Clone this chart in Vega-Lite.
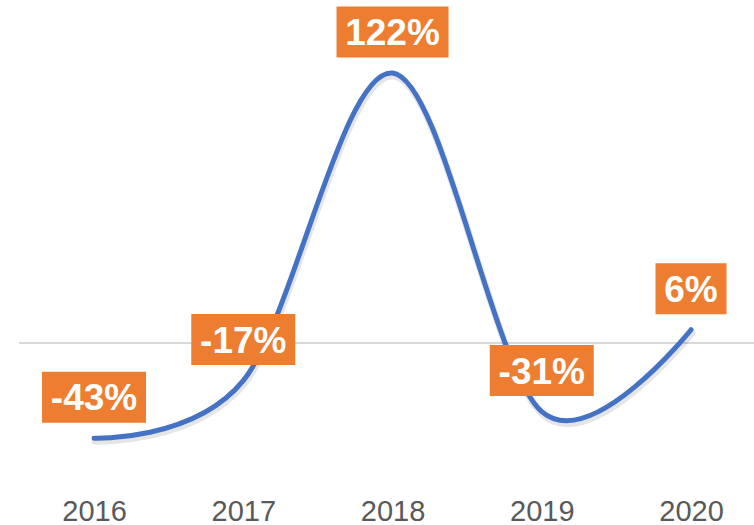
{
  "$schema": "https://vega.github.io/schema/vega-lite/v6.json",
  "width": 754,
  "height": 495,
  "autosize": {"type": "none"},
  "padding": {"left": 0, "top": 0, "right": 0, "bottom": 30},
  "background": "white",
  "config": {"view": {"stroke": null}},
  "data": {
    "values": [
      {"year": 2016, "value": -43, "label": "-43%"},
      {"year": 2017, "value": -17, "label": "-17%"},
      {"year": 2018, "value": 122, "label": "122%"},
      {"year": 2019, "value": -31, "label": "-31%"},
      {"year": 2020, "value": 6, "label": "6%"}
    ]
  },
  "layer": [
    {
      "mark": {"type": "rule", "color": "#D9D9D9", "strokeWidth": 2},
      "encoding": {
        "y": {"datum": 0, "type": "quantitative", "scale": {"domain": [-68.7, 155.0], "nice": false, "zero": false}, "axis": null},
        "x": {
          "datum": 2015.5,
          "type": "quantitative",
          "scale": {"domain": [2015.37, 2020.422], "nice": false, "zero": false},
          "axis": {
            "values": [2016, 2017, 2018, 2019, 2020],
            "format": "d",
            "title": null,
            "domain": false,
            "ticks": false,
            "grid": false,
            "labelFont": "Liberation Sans",
            "labelFontSize": 29,
            "labelColor": "#595959",
            "labelBaseline": "alphabetic",
            "labelPadding": 25,
            "labelFlush": false
          }
        },
        "x2": {"datum": 2020.6}
      }
    },
    {
      "mark": {"type": "line", "interpolate": "cardinal", "color": "#000000", "opacity": 0.1, "strokeWidth": 7, "yOffset": 3, "xOffset": 1, "strokeCap": "round"},
      "encoding": {
        "x": {"field": "year", "type": "quantitative"},
        "y": {"field": "value", "type": "quantitative"}
      }
    },
    {
      "mark": {"type": "line", "interpolate": "cardinal", "color": "#4472C4", "strokeWidth": 5, "strokeCap": "round"},
      "encoding": {
        "x": {"field": "year", "type": "quantitative"},
        "y": {"field": "value", "type": "quantitative"}
      }
    },
    {
      "mark": {"type": "point", "filled": true, "color": "#ED7D31", "opacity": 1, "size": 4, "yOffset": -41, "strokeWidth": 0},
      "encoding": {
        "x": {"field": "year", "type": "quantitative"},
        "y": {"field": "value", "type": "quantitative"},
        "shape": {
          "field": "label",
          "type": "nominal",
          "scale": {
            "domain": ["-43%", "-17%", "122%", "-31%", "6%"],
            "range": [
              "M-52,-25.5H52V25.5H-52Z",
              "M-52,-25.5H52V25.5H-52Z",
              "M-56,-25.5H56V25.5H-56Z",
              "M-52,-25.5H52V25.5H-52Z",
              "M-35.5,-25.5H35.5V25.5H-35.5Z"
            ]
          },
          "legend": null
        }
      }
    },
    {
      "mark": {"type": "text", "color": "white", "font": "Liberation Sans", "fontWeight": "bold", "fontSize": 37, "baseline": "alphabetic", "align": "center", "yOffset": -28},
      "encoding": {
        "x": {"field": "year", "type": "quantitative"},
        "y": {"field": "value", "type": "quantitative"},
        "text": {"field": "label"}
      }
    }
  ]
}
